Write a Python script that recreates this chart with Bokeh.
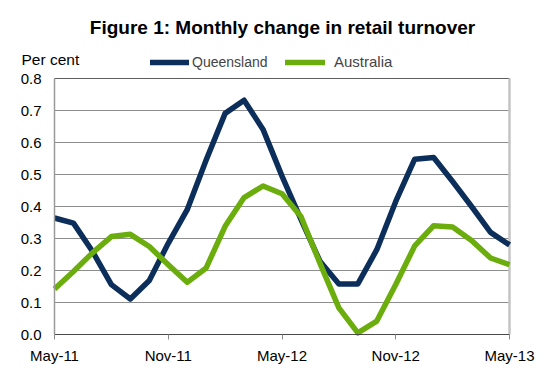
from bokeh.plotting import figure
from bokeh.models import (Label, Legend, LegendItem, FixedTicker, NumeralTickFormatter,
                          LinearAxis, Range1d)
from bokeh.embed import file_html
from bokeh.resources import INLINE

months = ["May-11", "Jun-11", "Jul-11", "Aug-11", "Sep-11", "Oct-11", "Nov-11", "Dec-11",
          "Jan-12", "Feb-12", "Mar-12", "Apr-12", "May-12", "Jun-12", "Jul-12", "Aug-12",
          "Sep-12", "Oct-12", "Nov-12", "Dec-12", "Jan-13", "Feb-13", "Mar-13", "Apr-13", "May-13"]
queensland = [0.364, 0.348, 0.26, 0.156, 0.111, 0.169, 0.285, 0.39, 0.545, 0.691, 0.732, 0.641,
              0.495, 0.36, 0.229, 0.158, 0.158, 0.265, 0.416, 0.548, 0.553, 0.478, 0.40, 0.319, 0.28]
australia = [0.142, 0.197, 0.255, 0.306, 0.313, 0.275, 0.218, 0.163, 0.208, 0.338, 0.428, 0.464,
             0.44, 0.369, 0.223, 0.083, 0.005, 0.042, 0.156, 0.277, 0.34, 0.336, 0.294, 0.239, 0.218]
y_ticks = [0.0, 0.1, 0.2, 0.3, 0.4, 0.5, 0.6, 0.7, 0.8]
x_tick_labels = ["May-11", "Nov-11", "May-12", "Nov-12", "May-13"]

x = list(range(len(months)))
x_ticks = [months.index(m) for m in x_tick_labels]
n = len(months) - 1
y_lo, y_hi = y_ticks[0], y_ticks[-1]

FONT = "Liberation Sans"
NAVY = "#0b2e5a"
GREEN = "#6aad0c"
LW = 5.5

# canvas and plot-area geometry (pixels)
W, H = 559, 375
PL, PR, PT, PB = 54, 509, 78, 334
sx = (PR - PL) / n
sy = (PB - PT) / (y_hi - y_lo)

p = figure(width=W, height=H, output_backend="svg", toolbar_location=None,
           x_range=Range1d(0 - PL / sx, n + (W - PR) / sx),
           y_range=Range1d(y_lo - (H - PB) / sy, y_hi + PT / sy),
           x_axis_location=None, y_axis_location=None, min_border=0)
p.outline_line_color = None
p.grid.grid_line_color = None
p.background_fill_color = "white"
p.border_fill_color = "white"

# gridlines and right border of the plot area
g = y_ticks[1:-1]
p.segment(x0=[0] * len(g), y0=g, x1=[n] * len(g), y1=g, line_color="#8e8e8e", line_width=1,
          level="underlay")
p.segment(x0=[0], y0=[y_hi], x1=[n], y1=[y_hi], line_color="#5e5e5e", line_width=1, level="underlay")
p.segment(x0=[n], y0=[y_lo], x1=[n], y1=[y_hi], line_color="#c4c4c4", line_width=2.5, level="underlay")

# axes drawn at data positions
yaxis = LinearAxis(fixed_location=0, bounds=(y_lo, y_hi), ticker=FixedTicker(ticks=y_ticks),
                   formatter=NumeralTickFormatter(format="0.0"))
yaxis.major_tick_out = 0
yaxis.major_tick_in = 0
yaxis.minor_tick_out = 0
yaxis.minor_tick_in = 0
yaxis.axis_line_color = "#9a9a9a"
yaxis.axis_line_width = 1.5
yaxis.major_label_standoff = 13

xaxis = LinearAxis(fixed_location=y_lo, bounds=(0, n), ticker=FixedTicker(ticks=x_ticks))
xaxis.major_label_overrides = {i: months[i] for i in x_ticks}
xaxis.major_tick_out = 5
xaxis.major_tick_in = 0
xaxis.minor_tick_out = 0
xaxis.minor_tick_in = 0
xaxis.axis_line_color = "#4a4a4a"
xaxis.major_tick_line_color = "#8a8a8a"
xaxis.major_label_standoff = 7

for ax in (xaxis, yaxis):
    ax.major_label_text_font = FONT
    ax.major_label_text_font_size = "15px"
    ax.major_label_text_color = "black"
p.add_layout(yaxis, "left")
p.add_layout(xaxis, "below")

# data lines
p.line(x, queensland, line_color=NAVY, line_width=LW, line_join="round", line_cap="butt")
p.line(x, australia, line_color=GREEN, line_width=LW, line_join="round", line_cap="butt")

# legend samples (rounded ends)
nan = float("nan")
lq = p.line([nan], [nan], line_color=NAVY, line_width=LW, line_cap="round")
la = p.line([nan], [nan], line_color=GREEN, line_width=LW, line_cap="round")
leg_q = Legend(items=[LegendItem(label="Queensland", renderers=[lq])], location=(150, H - 70),
               glyph_width=39, glyph_height=16, label_height=16, label_standoff=3,
               padding=0, margin=0, border_line_color=None, background_fill_alpha=0,
               label_text_font=FONT, label_text_font_size="14px")
leg_a = Legend(items=[LegendItem(label="Australia", renderers=[la])], location=(285, H - 70),
               glyph_width=40, glyph_height=16, label_height=16, label_standoff=9,
               padding=0, margin=0, border_line_color=None, background_fill_alpha=0,
               label_text_font=FONT, label_text_font_size="15px")
p.add_layout(leg_q)
p.add_layout(leg_a)

p.add_layout(Label(x=282, y=H - 26.5, x_units="screen", y_units="screen",
                   text="Figure 1: Monthly change in retail turnover", text_align="center",
                   text_baseline="middle", text_font=FONT, text_font_style="bold",
                   text_font_size="19px", text_color="black"))
p.add_layout(Label(x=21, y=H - 59, x_units="screen", y_units="screen", text="Per cent",
                   text_align="left", text_baseline="middle", text_font=FONT,
                   text_font_size="15.5px", text_color="black"))

open("out.html", "w").write(file_html(p, INLINE))
